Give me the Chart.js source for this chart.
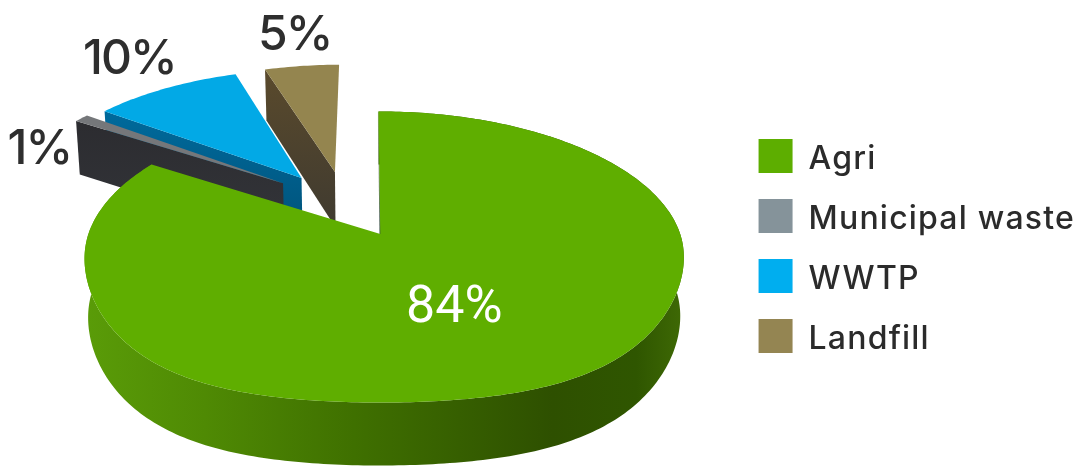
<!DOCTYPE html>
<html>
<head>
<meta charset="utf-8">
<style>
html,body{margin:0;padding:0;background:#fff;overflow:hidden}
canvas{display:block}
</style>
<script src="https://cdn.jsdelivr.net/npm/chart.js@4/dist/chart.umd.min.js"></script>
</head>
<body>
<canvas id="pie" width="1077" height="466"></canvas>
<script>
// Emission shares by source
const categories = ['Agri', 'Municipal waste', 'WWTP', 'Landfill'];
const shares = [84, 1, 10, 5];
const legendColors = ['#5DAE00', '#85939A', '#00AEEF', '#948552'];

// Look of each wedge in the tilted view
const topColors = ['#5FAE00', '#75777A', '#02A9E6', '#94854F'];
const cutColors = [['#2E4A10', '#2E4A10'], ['#2C2C30', '#33353A'], ['#006A9C', '#00527A'], ['#5A4A2C', '#3F3A30']];
// How far each wedge is pulled out of the disc (disc units, across / into the view)
const explodeU = [0, -0.35, -0.285, -0.165];
const explodeV = [0, -0.38, -0.42, -0.47];
// Where each percentage sits relative to the pie hub, in pixels
const labelShiftX = [74, -341, -251, -85.5];
const labelShiftY = [75, -84.5, -174.5, -198];
const labelFill = ['#FFFFFF', '#2E2E2E', '#2E2E2E', '#2E2E2E'];

// Perspective settings, all relative to the library's arc radius
const KEEN = 0.158;
const HUB_DX = 14;
const HUB_DY = -12;
const WIDE = 1.345;
const FLAT = 0.645;
const BOW = 4;
const FULLNESS = 45;
const LOWER_SCALE = 0.988;

function projector(arc) {
  const cx = arc.x + HUB_DX, cy = arc.y + HUB_DY, R = arc.outerRadius;
  const top = (u, v) => {
    const w = 1 - KEEN * v;
    const front = Math.max(v, 0);
    return {
      x: cx + WIDE * R * u / w + BOW * u * u,
      y: cy + FLAT * R * v / w + FULLNESS * u * u * front * front
    };
  };
  const low = (u, v) => {
    const p = top(u, v);
    return { x: cx + 4 + (p.x - cx - 4) * LOWER_SCALE, y: p.y + 58 + 5 * v };
  };
  return { top, low, cx, cy };
}

function pathOf(ctx, pts) {
  ctx.beginPath();
  pts.forEach((p, i) => i ? ctx.lineTo(p.x, p.y) : ctx.moveTo(p.x, p.y));
  ctx.closePath();
}

function drawWedge(ctx, arc, i) {
  const P = projector(arc);
  const ou = explodeU[i], ov = explodeV[i];
  const rim = [];
  const steps = Math.max(6, Math.ceil((arc.endAngle - arc.startAngle) * 60));
  for (let s = 0; s <= steps; s++) {
    const a = arc.startAngle + (arc.endAngle - arc.startAngle) * s / steps;
    rim.push([Math.cos(a) + ou, Math.sin(a) + ov]);
  }
  const rimTop = rim.map(r => P.top(r[0], r[1]));
  const rimLow = rim.map(r => P.low(r[0], r[1]));
  const hubTop = P.top(ou, ov), hubLow = P.low(ou, ov);

  // Face exposed by the cut along the wedge's starting edge
  if (i > 0) {
    const g = ctx.createLinearGradient(0, rimTop[0].y, 0, hubLow.y);
    g.addColorStop(0, cutColors[i][0]);
    g.addColorStop(1, cutColors[i][1]);
    ctx.fillStyle = g;
    pathOf(ctx, [rimTop[0], hubTop, hubLow, rimLow[0]]);
    ctx.fill();
  }

  // Outer wall of the disc
  if (i === 0) {
    const g = ctx.createLinearGradient(P.cx - 296, 0, P.cx + 304, 0);
    g.addColorStop(0, '#5A9C08');
    g.addColorStop(0.2, '#4F8A04');
    g.addColorStop(0.45, '#3F7000');
    g.addColorStop(0.78, '#2E5000');
    g.addColorStop(0.92, '#2F5600');
    g.addColorStop(1, '#3F6A05');
    ctx.fillStyle = g;
    pathOf(ctx, rimTop.concat(rimLow.slice().reverse()));
    ctx.fill();
    // Thin shadow line down the open edge
    const edge = ctx.createLinearGradient(0, rimTop[0].y, 0, hubTop.y);
    edge.addColorStop(0, 'rgba(40,70,20,0.1)');
    edge.addColorStop(1, 'rgba(25,50,40,0.9)');
    ctx.strokeStyle = edge;
    ctx.lineWidth = 1.5;
    ctx.beginPath();
    ctx.moveTo(rimTop[0].x, rimTop[0].y);
    ctx.lineTo(hubTop.x, hubTop.y);
    ctx.stroke();
  }

  // Top face
  ctx.fillStyle = topColors[i];
  pathOf(ctx, [hubTop].concat(rimTop));
  ctx.fill();
}

const tiltedPie = {
  id: 'tiltedPie',
  beforeDatasetDraw(chart, args) {
    const ctx = chart.ctx;
    const arcs = chart.getDatasetMeta(args.index).data;
    // Far wedges first so the nearer ones overlap them
    [3, 2, 1, 0].forEach(i => drawWedge(ctx, arcs[i], i));
    return false;
  },
  afterDatasetsDraw(chart) {
    const ctx = chart.ctx;
    const arcs = chart.getDatasetMeta(0).data;
    ctx.save();
    ctx.textAlign = 'center';
    ctx.textBaseline = 'middle';
    shares.forEach((v, i) => {
      ctx.font = (i === 0 ? '400 52px Roboto' : '500 48px Inter');
      ctx.letterSpacing = i === 0 ? '0px' : '-2px';
      ctx.fillStyle = labelFill[i];
      ctx.fillText(v + '%', arcs[i].x + HUB_DX + labelShiftX[i], arcs[i].y + HUB_DY + labelShiftY[i]);
    });
    ctx.restore();
  }
};

const chart = new Chart(document.getElementById('pie'), {
  type: 'pie',
  data: {
    labels: categories,
    datasets: [{ data: shares, backgroundColor: legendColors, borderWidth: 0 }]
  },
  plugins: [tiltedPie],
  options: {
    responsive: false,
    animation: false,
    rotation: -0.4,
    layout: { padding: { top: 26, right: 10, bottom: 0, left: 0 } },
    plugins: {
      tooltip: { enabled: false },
      legend: {
        position: 'right',
        labels: {
          boxWidth: 34,
          boxHeight: 34,
          padding: 26,
          color: '#2B2B2B',
          font: { family: 'Inter', size: 32, weight: '500' }
        }
      }
    }
  }
});

// Legend text: wider tracking, seated slightly below the centre of its colour box.
// The tracked text runs past the measured box, so the clip edge is opened for the paint.
const legend = chart.legend;
const paintLegend = legend.draw;
legend.draw = function () {
  const ctx = this.ctx, fill = ctx.fillText, edge = this.right;
  ctx.save();
  ctx.letterSpacing = '1.2px';
  this.right = this.chart.width + 40;
  ctx.fillText = function (t, x, y, m) { return fill.call(ctx, t, x, y + 3, m); };
  paintLegend.apply(this, arguments);
  ctx.fillText = fill;
  this.right = edge;
  ctx.restore();
};
chart.draw();
</script>
</body>
</html>
